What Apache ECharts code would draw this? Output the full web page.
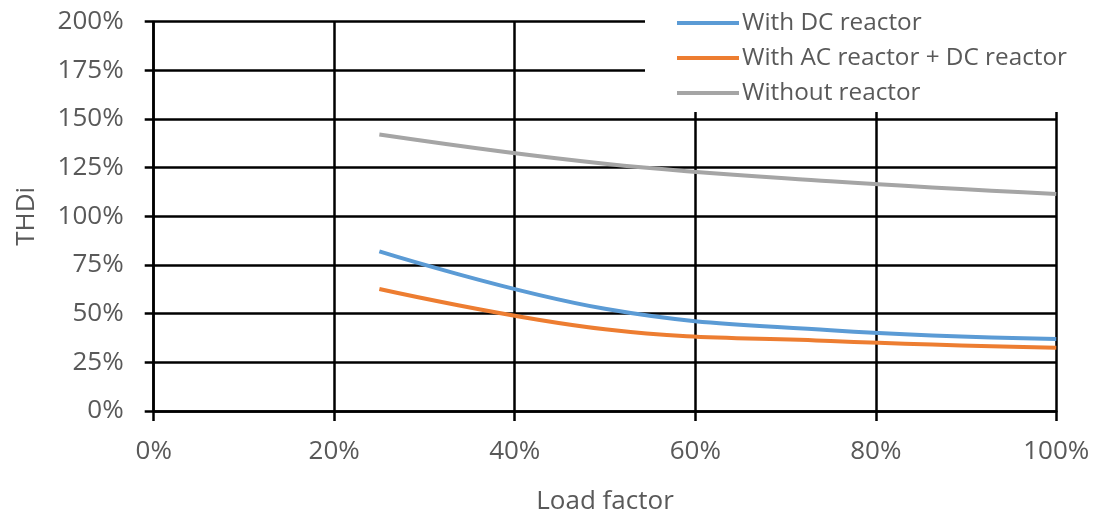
<!DOCTYPE html>
<html>
<head>
<meta charset="utf-8">
<script src="https://cdn.jsdelivr.net/npm/echarts@6/dist/echarts.min.js"></script>
<style>html,body{margin:0;padding:0;background:#fff}#c{width:1103px;height:516px}</style>
</head>
<body>
<div id="c"></div>
<script>
const loadFactor = [25, 50, 75, 100];
const withDC = [82, 52.5, 41.5, 37];
const withACDC = [62.7, 42, 36, 32.5];
const withoutReactor = [142, 127, 118, 111.5];
const seriesNames = ['With DC reactor', 'With AC reactor + DC reactor', 'Without reactor'];
const seriesColors = ['#5B9BD5', '#ED7D31', '#A5A5A5'];

const pair = arr => loadFactor.map((x, i) => [x, arr[i]]);
const allData = [withDC, withACDC, withoutReactor];
const font = '"Open Sans", sans-serif';
const txt = '#595959';

const chart = echarts.init(document.getElementById('c'));
chart.setOption({
  animation: false,
  backgroundColor: '#fff',
  grid: {left: 153.7, right: 46.7, top: 21.7, bottom: 105, containLabel: false, outerBoundsMode: 'none'},
  legend: {
    orient: 'vertical',
    left: 645,
    top: 0,
    padding: [11, 36, 7, 32],
    itemGap: 11,
    itemWidth: 62,
    itemHeight: 4,
    backgroundColor: '#fff',
    icon: 'rect',
    textStyle: {color: txt, fontFamily: font, fontSize: 24.3, lineHeight: 24, padding: [0, 0, 0, -2]},
    data: seriesNames,
    z: 10
  },
  xAxis: {
    type: 'value', min: 0, max: 100, interval: 20,
    name: 'Load factor', nameLocation: 'middle', nameGap: 78,
    nameTextStyle: {color: txt, fontFamily: font, fontSize: 26},
    axisLine: {show: true, lineStyle: {color: '#000', width: 2.5}},
    axisTick: {show: true, length: 10, lineStyle: {color: '#000', width: 2.5}},
    axisLabel: {color: txt, fontFamily: font, fontSize: 26, margin: 28, formatter: '{value}%'},
    splitLine: {show: true, lineStyle: {color: '#000', width: 2.5}}
  },
  yAxis: {
    type: 'value', min: 0, max: 200, interval: 25,
    name: 'THDi', nameLocation: 'middle', nameGap: 114, nameRotate: 90,
    nameTextStyle: {color: txt, fontFamily: font, fontSize: 26},
    axisLine: {show: true, lineStyle: {color: '#000', width: 2.5}},
    axisTick: {show: true, length: 9, lineStyle: {color: '#000', width: 2.5}},
    axisLabel: {color: txt, fontFamily: font, fontSize: 26, margin: 30, formatter: '{value}%'},
    splitLine: {show: true, lineStyle: {color: '#000', width: 2.5}}
  },
  series: seriesNames.map((n, i) => ({
    name: n, type: 'line', smooth: 0.4, showSymbol: false, symbol: 'none',
    data: pair(allData[i]),
    lineStyle: {color: seriesColors[i], width: 4},
    itemStyle: {color: seriesColors[i]},
    z: 3
  }))
});
</script>
</body>
</html>
